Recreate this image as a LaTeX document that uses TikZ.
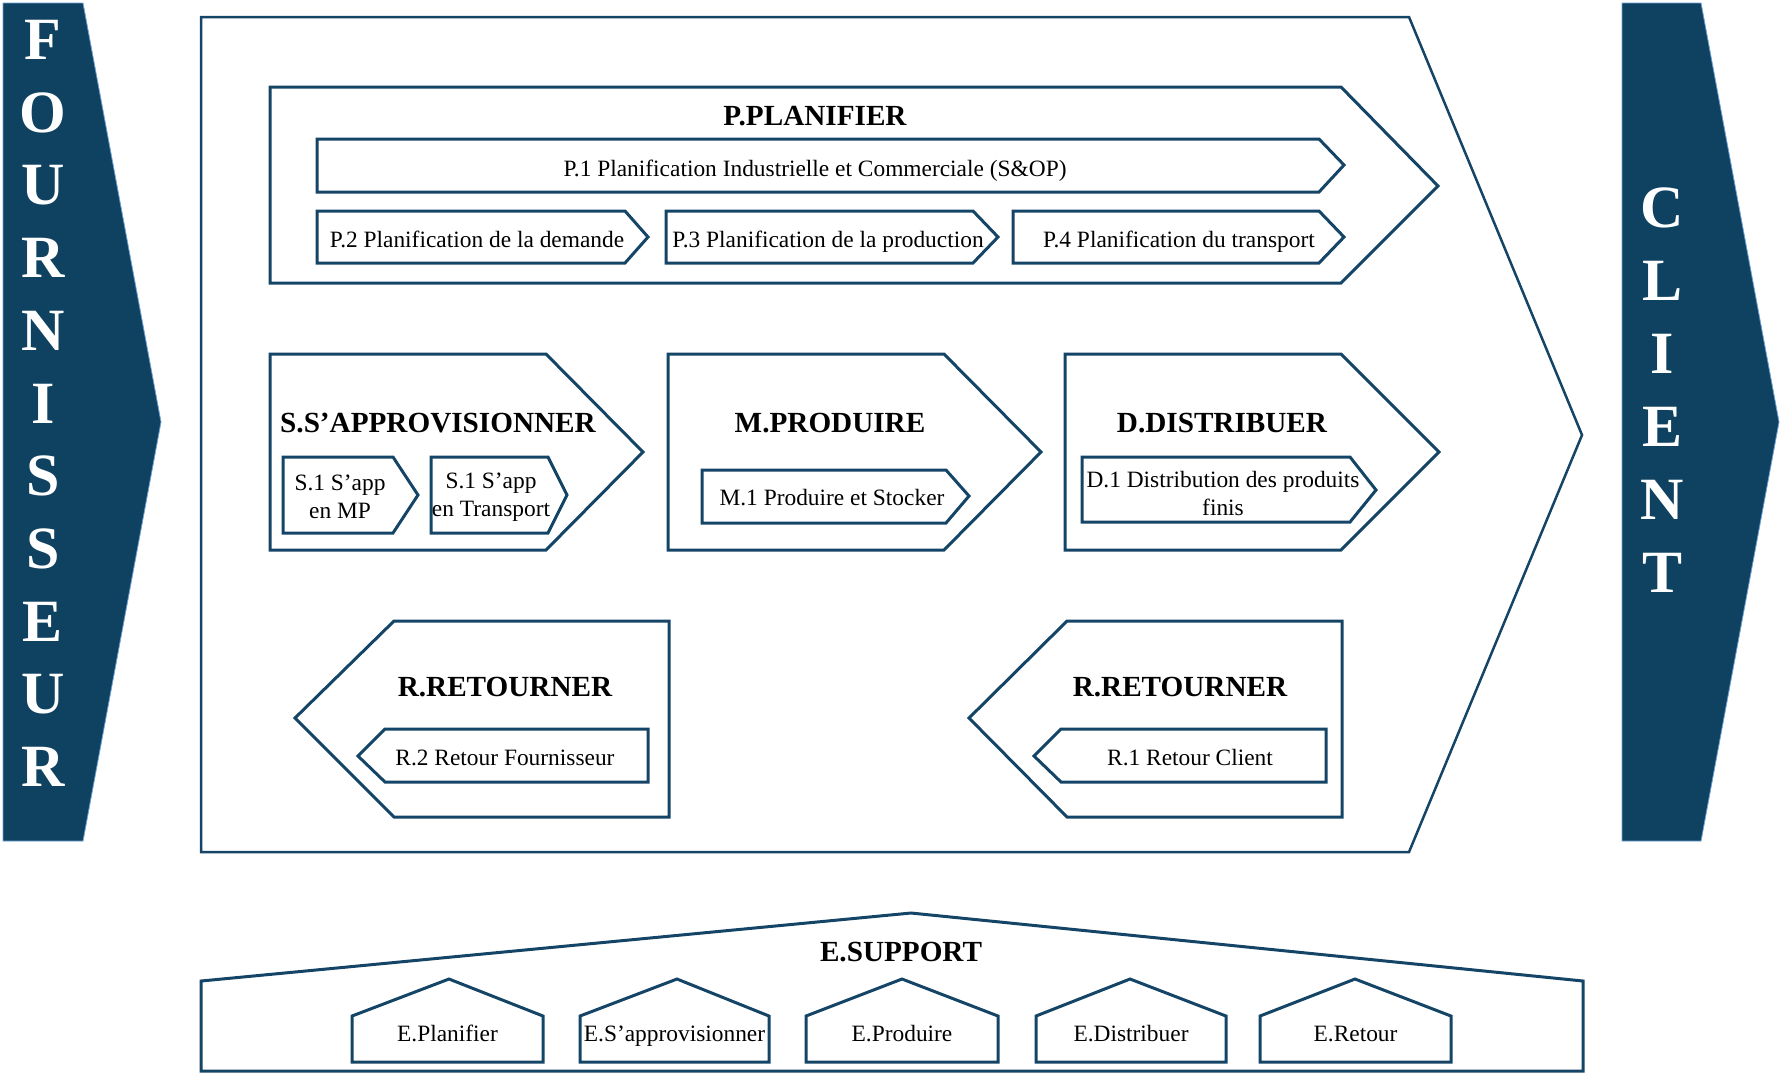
\documentclass[tikz,border=0pt]{standalone}
\usepackage{fontspec}
\setmainfont{Liberation Serif}
\definecolor{navy}{RGB}{15,66,97}
\definecolor{edge}{RGB}{21,69,102}
\definecolor{rim}{RGB}{110,160,215}

\begin{document}
\begin{tikzpicture}[x=0.5pt,y=-0.5pt,
  shell/.style={draw=edge,line width=1.25pt,line join=miter},
  box/.style={draw=edge,line width=1.5pt,line join=miter},
  side/.style={fill=navy,draw=rim,line width=0.4pt},
  title/.style={inner sep=0pt,font=\rmfamily\fontsize{14.6}{16}\selectfont\bfseries},
  txt/.style={inner sep=0pt,align=center,font=\rmfamily\fontsize{11.7}{14}\selectfont},
  one/.style={txt,text height=0.72em,text depth=0.22em},
  letter/.style={inner sep=0pt,text=white,font=\rmfamily\fontsize{30}{30}\selectfont\bfseries}]

\useasboundingbox (0,0) rectangle (1780,1073);

% supplier and customer arrows
\draw[side] (3,3) -- (83,3) -- (161,422) -- (83,841) -- (3,841) -- cycle;
\draw[side] (1622,3) -- (1701,3) -- (1779,422) -- (1701,841) -- (1622,841) -- cycle;
\foreach \c [count=\i from 0] in {F,O,U,R,N,I,S,S,E,U,R}
  \node[letter] (f\i) at (43,{40+72.7*\i}) {\c};
\foreach \c [count=\i from 0] in {C,L,I,E,N,T}
  \node[letter] (c\i) at (1662,{208+73*\i}) {\c};

% supply chain frame
\draw[shell] (201,17) -- (1409,17) -- (1582,435) -- (1409,852) -- (201,852) -- cycle;

% P. Planifier
\draw[box] (270,87) -- (1341,87) -- (1438,186) -- (1341,283) -- (270,283) -- cycle;
\node[title] (ptitle) at (815,116) {P.PLANIFIER};
\draw[box] (317,139) -- (1319,139) -- (1344,165) -- (1319,192) -- (317,192) -- cycle;
\node[one] (p1) at (815,171.5) {P.1 Planification Industrielle et Commerciale (S\&OP)};
\draw[box] (317,211) -- (625,211) -- (648,237) -- (625,263) -- (317,263) -- cycle;
\node[one] (p2) at (477,242.5) {P.2 Planification de la demande};
\draw[box] (666,211) -- (973,211) -- (998,237) -- (973,263) -- (666,263) -- cycle;
\node[one] (p3) at (828,242.5) {P.3 Planification de la production};
\draw[box] (1013,211) -- (1319,211) -- (1344,237) -- (1319,263) -- (1013,263) -- cycle;
\node[one] (p4) at (1179,242.5) {P.4 Planification du transport};

% S. S'approvisionner
\draw[box] (270,354) -- (546,354) -- (643,452) -- (546,550) -- (270,550) -- cycle;
\node[title] (stitle) at (438,423) {S.S’APPROVISIONNER};
\draw[box] (283,457) -- (393,457) -- (418,495) -- (393,533) -- (283,533) -- cycle;
\node[txt] (s1a) at (340,497) {S.1 S’app\\en MP};
\draw[box] (431,457) -- (548,457) -- (567,495) -- (548,533) -- (431,533) -- cycle;
\node[txt] (s1b) at (491,497) {S.1 S’app\\en Transport};

% M. Produire
\draw[box] (668,354) -- (944,354) -- (1041,452) -- (944,550) -- (668,550) -- cycle;
\node[title] (mtitle) at (830,423) {M.PRODUIRE};
\draw[box] (702,470) -- (946,470) -- (969,496) -- (946,523) -- (702,523) -- cycle;
\node[one] (m1) at (832,500.5) {M.1 Produire et Stocker};

% D. Distribuer
\draw[box] (1065,354) -- (1341,354) -- (1439,452) -- (1341,550) -- (1065,550) -- cycle;
\node[title] (dtitle) at (1222,423) {D.DISTRIBUER};
\draw[box] (1082,457) -- (1350,457) -- (1376,490) -- (1350,522) -- (1082,522) -- cycle;
\node[txt] (d1) at (1223,493) {D.1 Distribution des produits\\finis};

% R. Retourner (supplier side)
\draw[box] (295,718) -- (394,621) -- (669,621) -- (669,817) -- (394,817) -- cycle;
\node[title] (rtitle2) at (505,687) {R.RETOURNER};
\draw[box] (358,756) -- (385,729) -- (648,729) -- (648,782) -- (385,782) -- cycle;
\node[one] (r2) at (505,760.5) {R.2 Retour Fournisseur};

% R. Retourner (customer side)
\draw[box] (969,718) -- (1067,621) -- (1342,621) -- (1342,817) -- (1067,817) -- cycle;
\node[title] (rtitle1) at (1180,687) {R.RETOURNER};
\draw[box] (1034,756) -- (1061,729) -- (1326,729) -- (1326,782) -- (1061,782) -- cycle;
\node[one] (r1) at (1190,760.5) {R.1 Retour Client};

% E. Support
\draw[box] (201,981) -- (911,913) -- (1583,981) -- (1583,1071) -- (201,1071) -- cycle;
\node[title] (etitle) at (901,952) {E.SUPPORT};
\foreach \l/\a/\r/\t [count=\i] in {352/449/543/E.Planifier,
                                     580/677/769/E.S’approvisionner,
                                     806/902/998/E.Produire,
                                     1036/1130/1226/E.Distribuer,
                                     1260/1355/1451/E.Retour}{
  \draw[box] (\l,1062) -- (\l,1016) -- (\a,979) -- (\r,1016) -- (\r,1062) -- cycle;
  \node[one] (e\i) at ({(\l+\r)/2},1036.5) {\t};
}
\end{tikzpicture}
\end{document}
